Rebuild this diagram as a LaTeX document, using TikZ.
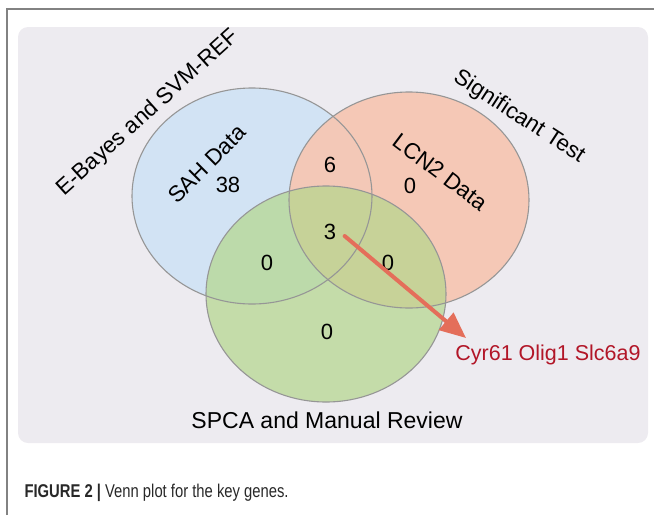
\documentclass[tikz,border=0pt]{standalone}
\usepackage{fontspec}
\setmainfont{Liberation Sans}
\newfontfamily\capfont[FakeStretch=0.8]{Liberation Sans}
\usetikzlibrary{shapes.geometric,arrows.meta}

\definecolor{bgGray}{RGB}{237,235,240}
\definecolor{frameGray}{RGB}{130,130,130}
\definecolor{setBlue}{RGB}{210,227,244}
\definecolor{setPink}{RGB}{246,198,178}
\definecolor{setGreen}{RGB}{180,215,140}
\definecolor{setLine}{RGB}{150,150,150}
\definecolor{arrowRed}{RGB}{228,110,90}
\definecolor{geneRed}{RGB}{178,22,40}
\definecolor{capGray}{RGB}{40,40,40}

\begin{document}
\begin{tikzpicture}
    [x=1pt, y=-1pt,
    set/.style={ellipse, minimum width=240pt, minimum height=216pt, inner sep=0pt},
    set line/.style={draw=setLine, line width=1.1pt},
    count/.style={font=\fontsize{22}{26}\selectfont},
    setname/.style={font=\fontsize{22.5}{27}\selectfont},
    gene arrow/.style={-{Triangle[length=26pt,width=22pt]}, arrowRed, line width=4pt, line cap=round}]

    \useasboundingbox (0, 0) rectangle (654, 515);

    % drawing the frame and the panel
    \draw[frameGray, line width=1.5pt] (7, 515) -- (7, 9) -- (654, 9);
    \fill[bgGray, rounded corners=10pt] (18, 27) rectangle (648, 443);

    % drawing the three sets
    \node[set, fill=setBlue] (sah) at (252, 196) {};
    \node[set, fill=setPink, fill opacity=0.92] (lcn) at (409, 200) {};
    \node[set, fill=setGreen, fill opacity=0.7] (spca) at (326, 294) {};
    \foreach \s in {sah, lcn, spca}
        \draw[set line] (\s.center) ellipse [x radius=120, y radius=108];

    % drawing the set names
    \node[setname, rotate=42] (ebayes) at (148, 113) {E-Bayes and SVM-REF};
    \node[setname, rotate=-33] (sigtest) at (519, 117) {Significant Test};
    \node[font=\fontsize{23}{28}\selectfont] (review) at (327, 420) {SPCA and Manual Review};
    \node[setname, rotate=45] (sahname) at (207, 164) {SAH Data};
    \node[setname, rotate=-37] (lcnname) at (440, 172) {LCN2 Data};

    % drawing the counts
    \node[count] (n38) at (228, 185) {38};
    \node[count] (n6) at (330, 165) {6};
    \node[count] (n0lcn) at (410, 186) {0};
    \node[count] (n3) at (330, 232) {3};
    \node[count] (n0left) at (267, 263) {0};
    \node[count] (n0right) at (388, 263) {0};
    \node[count] (n0spca) at (327, 332) {0};

    % drawing the shared genes
    \node[setname, font=\fontsize{21.5}{26}\selectfont, text=geneRed] (genes) at (548, 355) {Cyr61 Olig1 Slc6a9};
    \coordinate (tip) at (466, 338);
    \draw[gene arrow] ([shift={(5, 4)}]n3.east) -- (tip);

    % caption
    \node[anchor=west, text=capGray, font=\capfont\fontsize{18.5}{22}\selectfont] (caption) at (21, 493)
        {\textbf{FIGURE 2 |} Venn plot for the key genes.};

\end{tikzpicture}
\end{document}
